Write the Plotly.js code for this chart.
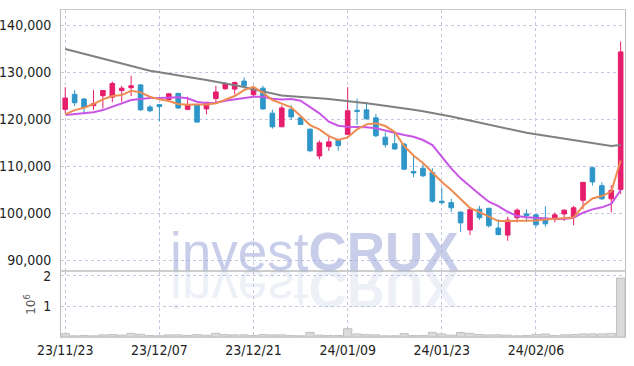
<!DOCTYPE html>
<html><head><meta charset="utf-8">
<script src="https://cdn.plot.ly/plotly-3.0.1.min.js"></script>
<style>html,body{margin:0;padding:0;background:#fff}#chart{width:634px;height:366px}</style>
</head><body><div id="chart"></div>
<script>
const dates = ['23/11/23','23/11/24','23/11/27','23/11/28','23/11/29','23/11/30','23/12/01','23/12/04','23/12/05','23/12/06',
'23/12/07','23/12/08','23/12/11','23/12/12','23/12/13','23/12/14','23/12/15','23/12/18','23/12/19','23/12/20',
'23/12/21','23/12/22','23/12/26','23/12/27','23/12/28','24/01/02','24/01/03','24/01/04','24/01/05','24/01/08',
'24/01/09','24/01/10','24/01/11','24/01/12','24/01/15','24/01/16','24/01/17','24/01/18','24/01/19','24/01/22',
'24/01/23','24/01/24','24/01/25','24/01/26','24/01/29','24/01/30','24/01/31','24/02/01','24/02/02','24/02/05',
'24/02/06','24/02/07','24/02/08','24/02/13','24/02/14','24/02/15','24/02/16','24/02/19','24/02/20','24/02/21'];
const tickDates = ['23/11/23','23/12/07','23/12/21','24/01/09','24/01/23','24/02/06'];
const openP = [122100,125300,124300,122900,125000,124700,126100,126700,127300,122600,123100,124200,125500,122100,123100,122200,124400,126500,126400,128100,125200,126600,121300,118400,122100,120300,117900,112200,114200,115600,116800,121900,122000,120300,116200,114800,114700,108900,109600,108700,102600,102300,100300,96500,100900,101100,96900,95400,99100,99900,99700,99000,98800,99900,99300,102800,109700,105900,103100,105100];
const highP = [126800,126200,124500,126200,126100,128000,127100,129200,127400,123000,123200,125600,125600,124800,123300,123700,127100,127900,128000,128900,127100,127100,122000,122900,123000,120500,118000,115500,116700,115700,126800,124400,123700,121100,117200,117000,115000,112200,110600,109600,105500,103100,100400,100900,101600,101200,98800,99300,101100,100900,99800,101500,100200,100900,101600,106700,110000,106600,106000,136500];
const lowP = [121300,122800,121100,122000,122300,123600,123700,124900,121800,121500,119500,124000,122200,121900,119300,121000,123200,126200,125300,126500,124700,122000,118000,118400,119800,118800,113000,111500,113300,113300,116700,118800,119900,116200,114000,113500,109200,107700,107700,102300,101900,100300,96100,95400,98600,97000,95400,94200,98100,98200,97100,97200,98100,98400,97500,100900,105900,102900,100200,104100];
const closeP = [124500,123500,122500,123300,126100,127600,126600,127100,122000,121800,122700,125400,122400,123100,119400,123600,125800,127500,127800,127100,126400,122200,118400,122400,120500,118900,113300,115000,115200,114400,121800,121700,120100,116500,114600,113700,109400,108600,108000,102600,102300,101200,98000,100800,99100,97400,95500,98600,100700,99500,97600,97800,99700,100700,101200,106600,106700,103100,104900,134300];
const ma5 = [121040,121950,122440,123230,124230,124930,125140,126050,125710,124780,124230,123870,123230,123080,123160,123160,123380,124230,124930,126200,126900,125630,124080,123330,122530,120680,118770,117860,116430,115590,116160,117860,118920,119130,118560,117300,114310,112300,110700,108690,106670,104970,103060,101150,100300,99390,98390,98390,98390,98430,98500,98710,98810,98960,99130,101570,103170,103700,104650,111230];
const ma10 = [120890,121110,121250,121470,121950,122660,123380,124080,124290,124500,124500,124500,124650,124440,123720,123380,123500,123930,124230,124440,124780,124780,124350,124180,124290,123930,122660,121250,119470,118620,118410,118410,118280,118070,117560,117010,116650,116290,115590,114520,112040,109580,107450,105670,104060,102490,101570,100360,99450,99180,99030,98880,98810,98810,99090,100150,100870,101300,102000,104970];
const ma60 = [134900,134380,133870,133350,132830,132320,131800,131280,130770,130310,129960,129600,129260,128950,128640,128320,127980,127640,127300,126840,126330,125880,125460,125030,124860,124760,124670,124480,124290,124090,123880,123630,123380,123120,122870,122610,122290,122000,121680,121360,121040,120600,120170,119730,119300,118860,118430,117960,117500,117140,116840,116520,116220,115880,115560,115220,114910,114590,114310,114520];
const volumeM = [0.11,0.04,0.05,0.04,0.07,0.08,0.06,0.12,0.09,0.05,0.04,0.07,0.07,0.05,0.08,0.06,0.12,0.08,0.07,0.07,0.05,0.08,0.07,0.07,0.05,0.04,0.15,0.06,0.05,0.05,0.27,0.10,0.08,0.07,0.04,0.04,0.11,0.05,0.05,0.15,0.10,0.06,0.15,0.12,0.08,0.07,0.07,0.06,0.04,0.05,0.08,0.10,0.05,0.07,0.08,0.10,0.10,0.10,0.12,1.92];
const priceTicks = [90000,100000,110000,120000,130000,140000];
const volTicks = [1,2];

const UP = 'rgb(230,30,108)', DOWN = 'rgb(46,150,200)';
const FONT = 'DejaVu Sans Condensed, Liberation Sans Narrow, sans-serif';
const GRID = 'rgba(195,195,222,0.95)';

const data = [
  {type:'bar', x:dates, y:volumeM, xaxis:'x', yaxis:'y2',
   marker:{color:'rgb(218,218,218)', line:{color:'rgb(192,192,192)', width:1}}, hoverinfo:'skip'},
  {type:'scatter', mode:'lines', x:dates, y:ma60, line:{color:'rgb(128,128,128)', width:2}, hoverinfo:'skip'},
  {type:'scatter', mode:'lines', x:dates, y:ma10, line:{color:'rgb(200,85,230)', width:2}, hoverinfo:'skip'},
  {type:'scatter', mode:'lines', x:dates, y:ma5, line:{color:'rgb(238,140,82)', width:2}, hoverinfo:'skip'},
  {type:'candlestick', x:dates, open:openP, high:highP, low:lowP, close:closeP,
   increasing:{line:{color:UP, width:1}, fillcolor:UP},
   decreasing:{line:{color:DOWN, width:1}, fillcolor:DOWN}, hoverinfo:'skip'}
];

const wm = 'invest<b>CRUX</b>';
const layout = {
  width:634, height:366, margin:{l:61, r:9, t:10, b:29},
  paper_bgcolor:'#fff', plot_bgcolor:'#fff', showlegend:false, hovermode:false,
  bargap:0.12,
  xaxis:{type:'category', range:[-0.45, 59.46], anchor:'y2', tickvals:tickDates,
    showgrid:true, gridcolor:GRID, griddash:'dot', gridwidth:1,
    showline:true, linecolor:'rgb(205,205,205)', mirror:'all', ticks:'',
    tickfont:{family:FONT, size:14, color:'#222'}, rangeslider:{visible:false}},
  yaxis:{domain:[0.205,1], range:[88000,143200], tickvals:priceTicks, tickformat:',',
    showgrid:true, gridcolor:GRID, griddash:'dot', zeroline:false,
    showline:true, linecolor:'rgb(190,190,190)', mirror:true, ticks:'', ticklabelstandoff:6,
    tickfont:{family:FONT, size:14, color:'#222'}},
  yaxis2:{domain:[0,0.199], range:[0,2.12], tickvals:volTicks,
    showgrid:true, gridcolor:GRID, griddash:'dot', zeroline:false,
    showline:true, linecolor:'rgb(190,190,190)', mirror:true, ticks:'', ticklabelstandoff:6,
    tickfont:{family:FONT, size:14, color:'#222'},
    title:{text:'10<sup>6</sup>', font:{family:'DejaVu Sans', size:12, color:'#555'}, standoff:4}},
  annotations:[
    {text:wm, xref:'paper', yref:'paper', x:0.45, y:0.262, xanchor:'center', yanchor:'middle',
     showarrow:false, font:{family:'Liberation Sans, Arial, sans-serif', size:53, color:'rgba(150,162,214,0.52)'}},
    {text:wm, xref:'paper', yref:'paper', x:0.45, y:0.262, xanchor:'center', yanchor:'middle',
     showarrow:false, font:{family:'Liberation Sans, Arial, sans-serif', size:53, color:'rgba(150,162,214,0.18)'}}
  ]
};

Plotly.newPlot('chart', data, layout, {staticPlot:true, displayModeBar:false}).then(function(gd){
  const anns = gd.querySelectorAll('g.annotation');
  if (anns.length > 1) {
    const t = anns[1].querySelector('text');
    if (t) {
      const bb = t.getBBox();
      const yf = bb.y + bb.height * 0.81;
      t.setAttribute('transform', 'translate(0,' + (2*yf) + ') scale(1,-1)');
    }
  }
});
</script>
</body></html>
